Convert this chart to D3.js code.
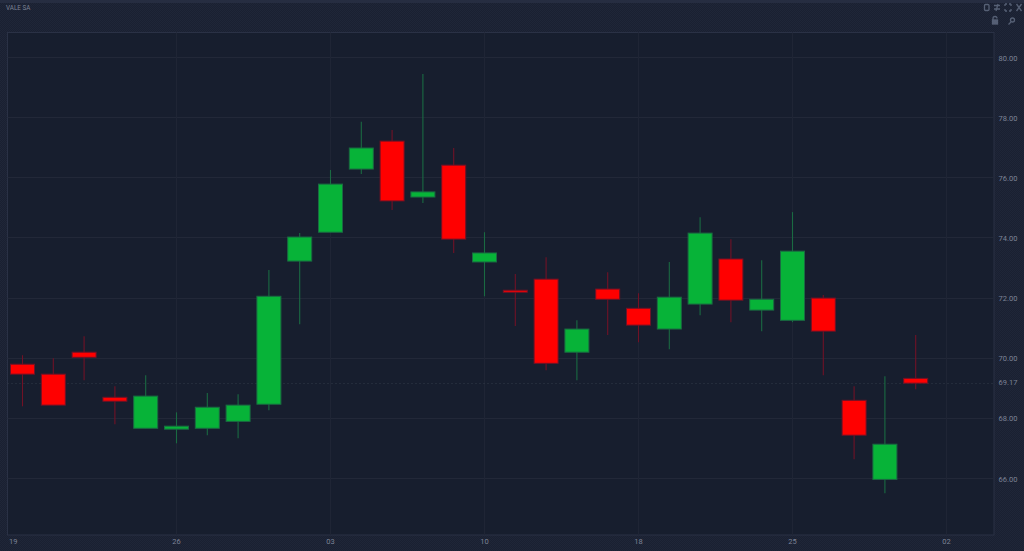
<!DOCTYPE html>
<html><head><meta charset="utf-8">
<script src="https://cdn.jsdelivr.net/npm/d3@7/dist/d3.min.js"></script>
<style>html,body{margin:0;padding:0;background:#1b2132;overflow:hidden}svg{display:block}</style>
</head><body><svg id="c" width="1024" height="551"></svg>
<script>
const title = "VALE SA";
const opens  = [69.80,69.47,70.20,68.70,67.67,67.64,67.67,67.90,68.47,73.23,74.19,76.29,77.22,75.36,76.42,73.20,72.26,72.63,70.20,72.30,71.66,70.97,71.80,73.30,71.60,71.26,72.00,68.60,65.97,69.33];
const closes = [69.47,68.44,70.03,68.57,68.74,67.74,68.37,68.44,72.06,74.03,75.79,76.99,75.23,75.53,73.96,73.50,72.20,69.83,70.97,71.96,71.10,72.03,74.16,71.93,71.96,73.56,70.90,67.44,67.14,69.17];
const highs  = [70.10,70.00,70.73,69.07,69.43,68.20,68.84,68.80,72.93,74.16,76.26,77.86,77.59,79.45,76.99,74.19,72.80,73.36,71.26,72.86,72.16,73.20,74.69,73.96,73.26,74.86,72.10,69.07,69.40,70.77];
const lows   = [68.40,68.44,69.27,67.80,67.67,67.17,67.44,67.34,68.27,71.13,74.19,76.13,74.93,75.16,73.50,72.06,71.07,69.60,69.27,70.77,70.53,70.30,71.43,71.20,70.90,71.20,69.43,66.64,65.51,68.97];
const priceTicks = [80,78,76,74,72,70,68,66];
const lastPrice = 69.17;
const dateLabels = ["19","26","03","10","18","25","02"];
const dateGridSlots = [-0.3,5,10,15,20,25,30];

const svg = d3.select("#c");
const defs = svg.append("defs");
const pat = defs.append("pattern").attr("id","dither").attr("width",2).attr("height",2).attr("patternUnits","userSpaceOnUse");
pat.append("rect").attr("width",2).attr("height",2).attr("fill","#1a2031");
pat.append("rect").attr("width",1).attr("height",1).attr("fill","#1f2638");
pat.append("rect").attr("x",1).attr("y",1).attr("width",1).attr("height",1).attr("fill","#1f2638");

const L=7.5,R=994,T=32.5,B=535;
svg.append("rect").attr("width",1024).attr("height",551).attr("fill","url(#dither)");
svg.append("rect").attr("width",1024).attr("height",3).attr("fill","#262d41");
svg.append("rect").attr("x",L).attr("y",T).attr("width",R-L).attr("height",B-T).attr("fill","#171e2e").attr("stroke","#2a3145").attr("stroke-width",1);

const y = d3.scaleLinear().domain([80,66]).range([57.5,478.5]);
const x = d3.scaleLinear().domain([0,30]).range([22.5,946.5]);

const g = svg.append("g");
g.selectAll("line.h").data(priceTicks).join("line").attr("class","h")
 .attr("x1",L).attr("x2",R).attr("y1",d=>Math.floor(y(d))+.5).attr("y2",d=>Math.floor(y(d))+.5)
 .attr("stroke","#222838");
g.selectAll("line.v").data(dateGridSlots.slice(1)).join("line").attr("class","v")
 .attr("y1",T).attr("y2",B).attr("x1",d=>Math.floor(x(d))+.5).attr("x2",d=>Math.floor(x(d))+.5)
 .attr("stroke","#1f2535");
g.append("line").attr("x1",L).attr("x2",R).attr("y1",Math.floor(y(lastPrice))+.5).attr("y2",Math.floor(y(lastPrice))+.5)
 .attr("stroke","#333a49").attr("stroke-dasharray","1,3");

const col = i => closes[i]>=opens[i] ? "#07b338" : "#ff0000";
const wick = i => closes[i]>=opens[i] ? "#1a6a42" : "#701226";
const idx = d3.range(opens.length);
const bw = 24;
svg.append("g").selectAll("line").data(idx).join("line")
 .attr("x1",i=>x(i)).attr("x2",i=>x(i)).attr("y1",i=>y(highs[i])).attr("y2",i=>y(lows[i]))
 .attr("stroke",wick).attr("stroke-width",1.1);
svg.append("g").selectAll("rect").data(idx).join("rect")
 .attr("x",i=>x(i)-bw/2).attr("width",bw)
 .attr("y",i=>y(Math.max(opens[i],closes[i])))
 .attr("height",i=>Math.max(2,Math.abs(y(opens[i])-y(closes[i]))))
 .attr("fill",col).attr("stroke",wick).attr("stroke-width",1);

const font="Roboto, 'Liberation Sans', sans-serif", tc="#7d8396";
svg.append("g").selectAll("text").data(priceTicks).join("text")
 .attr("x",1008).attr("y",d=>y(d)+3).attr("text-anchor","middle")
 .attr("font-family",font).attr("font-size",7.5).attr("fill",tc).text(d=>d3.format(".2f")(d));
svg.append("text").attr("x",1008).attr("y",y(lastPrice)+2).attr("text-anchor","middle")
 .attr("font-family",font).attr("font-size",7.5).attr("fill",tc).text(d3.format(".2f")(lastPrice));
svg.selectAll("text.x").data(dateLabels).join("text").attr("class","x")
 .attr("x",(d,i)=>x(dateGridSlots[i])).attr("y",544).attr("text-anchor","middle")
 .attr("font-family",font).attr("font-size",7.5).attr("fill",tc).text(d=>d);
svg.append("text").attr("x",6).attr("y",10).attr("font-family",font).attr("font-size",6.3).attr("fill",tc).text(title);

// toolbar icons
const ic = svg.append("g").attr("fill","none").attr("stroke","#566075").attr("stroke-width",1.3);
ic.append("rect").attr("x",984.5).attr("y",4.5).attr("width",4.5).attr("height",6).attr("rx",1);
ic.append("path").attr("d","M994 5.5h6M994 9h6M998 4l-2 7");
ic.append("path").attr("d","M1005 4h2M1005 4v2M1011 4h-2M1011 4v2M1005 11h2M1005 11v-2M1011 11h-2M1011 11v-2");
ic.append("path").attr("d","M1016.5 4l5 7M1021.5 4l-5 7");
ic.append("path").attr("d","M993 20v-1.5a2 2 0 0 1 4 0");
ic.append("rect").attr("x",992.5).attr("y",20).attr("width",5).attr("height",4).attr("fill","#566075");
ic.append("circle").attr("cx",1012.5).attr("cy",20).attr("r",2);
ic.append("path").attr("d","M1011 22l-2.5 2.5");
</script></body></html>
